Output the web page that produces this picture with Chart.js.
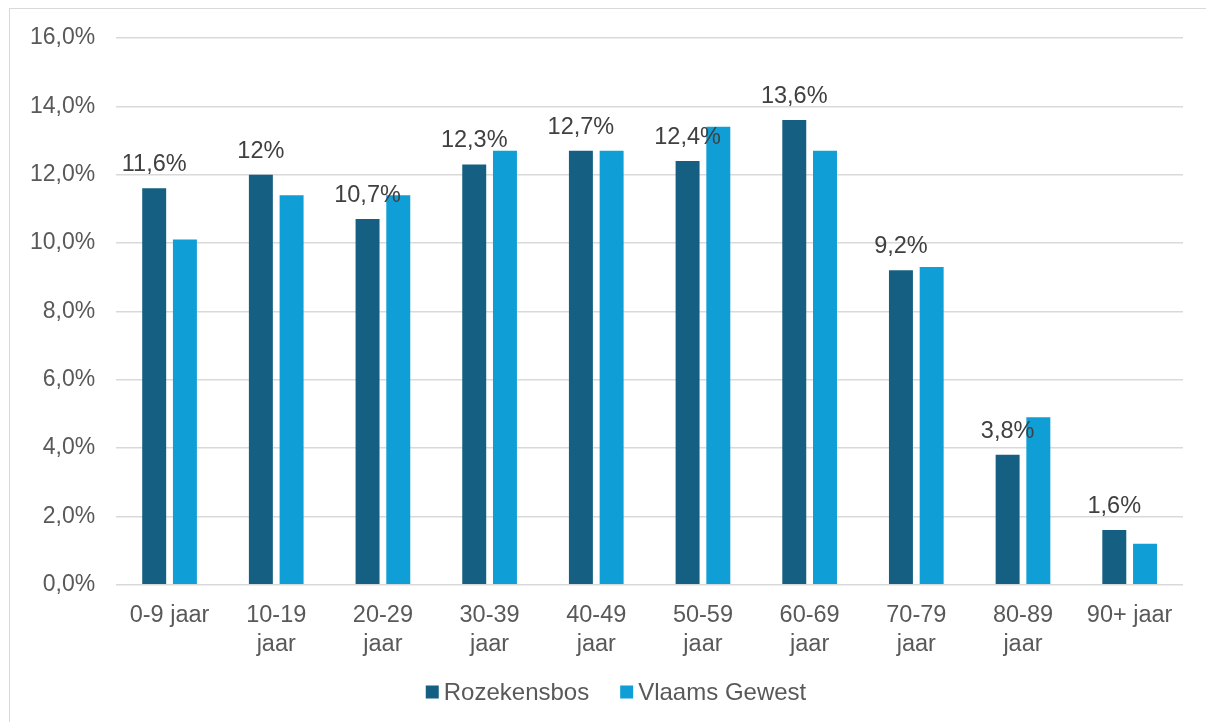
<!DOCTYPE html>
<html>
<head>
<meta charset="utf-8">
<script src="https://cdn.jsdelivr.net/npm/chart.js@4/dist/chart.umd.min.js"></script>
<style>
  html, body { margin: 0; padding: 0; background: #ffffff; }
  #wrap { position: relative; width: 1206px; height: 722px; overflow: hidden; }
  #frame { position: absolute; left: 9px; top: 8px; width: 1300px; height: 800px;
           border-top: 1.5px solid #d9d9d9; border-left: 1.5px solid #d9d9d9; box-sizing: border-box; }
  canvas { position: absolute; left: 0; top: 0; }
</style>
</head>
<body>
<div id="wrap">
  <div id="frame"></div>
  <canvas id="c" width="1206" height="722"></canvas>
</div>
<script>
const categories = ["0-9 jaar", ["10-19", "jaar"], ["20-29", "jaar"], ["30-39", "jaar"], ["40-49", "jaar"],
                    ["50-59", "jaar"], ["60-69", "jaar"], ["70-79", "jaar"], ["80-89", "jaar"], "90+ jaar"];
const rozekensbos = [11.6, 12, 10.7, 12.3, 12.7, 12.4, 13.6, 9.2, 3.8, 1.6];
const vlaamsGewest = [10.1, 11.4, 11.4, 12.7, 12.7, 13.4, 12.7, 9.3, 4.9, 1.2];
const seriesNames = ["Rozekensbos", "Vlaams Gewest"];
const seriesColors = ["#156082", "#0F9ED5"];
const yTicks = { min: 0, max: 16, step: 2 };

const FONT = "'Liberation Sans', Arial, sans-serif";

function fmtPct(v, decimals) {
  const s = (decimals === undefined) ? String(v) : v.toFixed(decimals);
  return s.replace('.', ',') + '%';
}

const dataLabelPlugin = {
  id: 'dataLabels',
  afterDatasetsDraw(chart) {
    const ctx = chart.ctx;
    const meta = chart.getDatasetMeta(0);
    ctx.save();
    ctx.font = "23.5px " + FONT;
    ctx.fillStyle = "#404040";
    ctx.textAlign = "center";
    ctx.textBaseline = "alphabetic";
    meta.data.forEach((bar, i) => {
      ctx.fillText(fmtPct(chart.data.datasets[0].data[i]), bar.x, bar.y - 17);
    });
    ctx.restore();
  }
};

const legendPlugin = {
  id: 'customLegend',
  afterDraw(chart) {
    const ctx = chart.ctx;
    ctx.save();
    ctx.font = "24px " + FONT;
    const box = 13, gapText = 5, gapItems = 31;
    const ds = chart.data.datasets;
    let total = 0;
    ds.forEach((d, i) => {
      total += box + gapText + ctx.measureText(d.label).width;
      if (i < ds.length - 1) total += gapItems;
    });
    let x = 616 - total / 2;
    const cy = 692;
    ds.forEach((d) => {
      ctx.fillStyle = d.backgroundColor;
      ctx.fillRect(x, cy - box / 2, box, box);
      x += box + gapText;
      ctx.fillStyle = "#595959";
      ctx.textBaseline = "middle";
      ctx.textAlign = "left";
      ctx.fillText(d.label, x, cy + 1);
      x += ctx.measureText(d.label).width + gapItems;
    });
    ctx.restore();
  }
};

new Chart(document.getElementById('c'), {
  type: 'bar',
  data: {
    labels: categories,
    datasets: [
      { label: seriesNames[0], data: rozekensbos, backgroundColor: seriesColors[0] },
      { label: seriesNames[1], data: vlaamsGewest, backgroundColor: seriesColors[1] }
    ]
  },
  options: {
    responsive: false,
    animation: false,
    devicePixelRatio: 1,
    layout: { padding: { left: 9, right: 23, top: 38, bottom: 46 } },
    datasets: { bar: { categoryPercentage: 0.576, barPercentage: 0.78 } },
    plugins: {
      legend: { display: false },
      tooltip: { enabled: false }
    },
    scales: {
      x: {
        grid: { display: false, drawTicks: false },
        border: { display: false },
        ticks: {
          color: "#595959",
          font: { family: FONT, size: 23.5, lineHeight: 1.22 },
          padding: 17,
          maxRotation: 0,
          autoSkip: false
        }
      },
      y: {
        min: yTicks.min, max: yTicks.max,
        grid: { color: "#d9d9d9", lineWidth: 1.5, drawTicks: false },
        border: { display: false },
        ticks: {
          stepSize: yTicks.step,
          color: "#595959",
          font: { family: FONT, size: 23 },
          padding: 21,
          callback: (v) => fmtPct(v, 1)
        }
      }
    }
  },
  plugins: [dataLabelPlugin, legendPlugin]
});
</script>
</body>
</html>
